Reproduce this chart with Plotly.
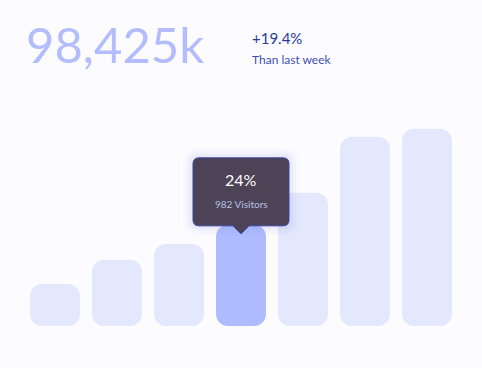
import plotly.graph_objects as go

# ---- data ----
days = ["Mon", "Tue", "Wed", "Thu", "Fri", "Sat", "Sun"]
visitors = [408, 642, 797, 982, 1293, 1837, 1915]
highlight_index = 3
highlight_pct = "24%"
highlight_label = "982 Visitors"
headline = "98,425k"
change_text = "+19.4%"
change_sub = "Than last week"

# ---- style ----
BG = "#fcfcff"
BAR = "#e4e8fd"
BAR_HI = "#aebbff"
Y_MAX = 2000
W, H = 482, 368
M_L, M_R, M_T, M_B = 24, 24, 120, 42
plot_h = H - M_T - M_B
R_PX = 12
per_px = Y_MAX / plot_h
foot = 2 * R_PX * per_px      # rounded foot height (data units)
start = 16 * per_px           # where the upper part starts

colors = [BAR_HI if i == highlight_index else BAR for i in range(len(days))]

fig = go.Figure()
# rounded foot: drawn on a reversed axis so its rounded end is at the baseline
fig.add_trace(go.Bar(
    x=days, y=[min(foot, v) for v in visitors], yaxis="y2",
    marker=dict(color=colors, line=dict(width=0)), hoverinfo="skip", showlegend=False,
))
# upper part with rounded top, on an axis shifted up by `start`
fig.add_trace(go.Bar(
    x=days, y=[v - start for v in visitors], yaxis="y3",
    marker=dict(color=colors, line=dict(width=0)), hoverinfo="skip", showlegend=False,
))

hx = days[highlight_index]
hy = visitors[highlight_index]

# tooltip shadow layers
for k, a in [(10, 0.03), (7, 0.045), (4, 0.06)]:
    x0, x1, y0, y1, q = -48 - k, 48 + k, -1 - k, 67 + k, 6 + k
    path = (f"M {x0+q},{y1} L {x1-q},{y1} Q {x1},{y1} {x1},{y1-q} L {x1},{y0+q} "
            f"Q {x1},{y0} {x1-q},{y0} L {x0+q},{y0} Q {x0},{y0} {x0},{y0+q} "
            f"L {x0},{y1-q} Q {x0},{y1} {x0+q},{y1} Z")
    fig.add_shape(type="path", xref="x", yref="y", xsizemode="pixel", ysizemode="pixel",
                  xanchor=hx, yanchor=hy, path=path,
                  fillcolor=f"rgba(120,135,230,{a})", line=dict(width=0))

tooltip_path = ("M -42,67 L 42,67 Q 48,67 48,61 L 48,5 Q 48,-1 42,-1 L 8,-1 L 0,-9 "
                "L -8,-1 L -42,-1 Q -48,-1 -48,5 L -48,61 Q -48,67 -42,67 Z")
fig.add_shape(type="path", xref="x", yref="y", xsizemode="pixel", ysizemode="pixel",
              xanchor=hx, yanchor=hy, path=tooltip_path,
              fillcolor="#4d4357", line=dict(color="#3b42a0", width=1))

fig.add_annotation(x=hx, y=hy, xref="x", yref="y", text=highlight_pct, showarrow=False,
                   yshift=45, yanchor="middle",
                   font=dict(family="Lato", size=16, color="#ffffff"))
fig.add_annotation(x=hx, y=hy, xref="x", yref="y", text=highlight_label, showarrow=False,
                   yshift=21, yanchor="middle",
                   font=dict(family="Lato", size=10, color="#b9c0e2"))

def px_to_paper(px, py):
    pw = W - M_L - M_R
    return (px - M_L) / pw, (H - M_B - py) / plot_h

bx, by = px_to_paper(24, 44)
fig.add_annotation(x=bx, y=by, xref="paper", yref="paper", text=headline, showarrow=False,
                   xanchor="left", yanchor="middle",
                   font=dict(family="Lato", size=49, color="#b3bdfd", weight=400))
cx, cy = px_to_paper(250, 38)
fig.add_annotation(x=cx, y=cy, xref="paper", yref="paper", text=change_text, showarrow=False,
                   xanchor="left", yanchor="middle",
                   font=dict(family="Lato", size=15, color="#2d3899"))
sx, sy = px_to_paper(250, 60)
fig.add_annotation(x=sx, y=sy, xref="paper", yref="paper", text=change_sub, showarrow=False,
                   xanchor="left", yanchor="middle",
                   font=dict(family="Lato", size=12, color="#3f4fb0"))

fig.update_layout(
    width=W, height=H,
    margin=dict(l=M_L, r=M_R, t=M_T, b=M_B),
    paper_bgcolor=BG, plot_bgcolor=BG,
    barmode="overlay", bargap=12 / 62, barcornerradius=R_PX,
    xaxis=dict(visible=False, range=[-0.5, len(days) - 0.5]),
    yaxis=dict(visible=False, range=[0, Y_MAX]),
    yaxis2=dict(visible=False, overlaying="y", range=[foot, foot - Y_MAX]),
    yaxis3=dict(visible=False, overlaying="y", range=[-start, Y_MAX - start]),
    showlegend=False,
)

fig.write_html(
    "out.html",
    config={"displayModeBar": False},
    post_script="document.body.style.margin='0';document.body.style.background='#fcfcff';",
)
